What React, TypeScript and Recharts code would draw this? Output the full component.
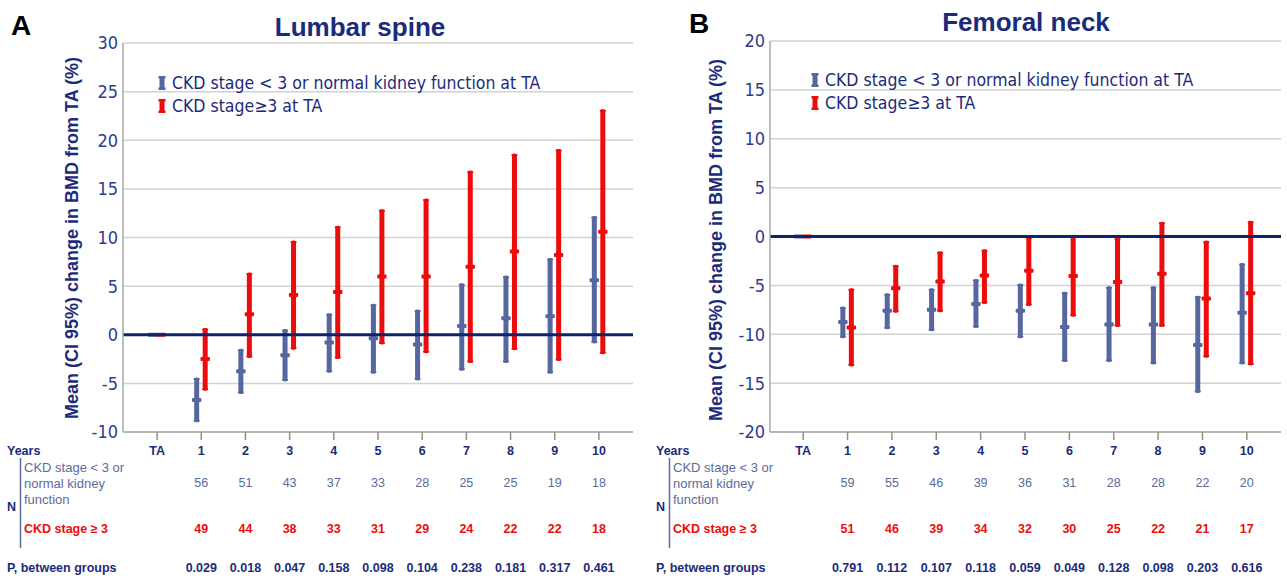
import { ComposedChart, Bar, XAxis, YAxis, CartesianGrid, ReferenceLine } from 'recharts';

const years = ['TA', '1', '2', '3', '4', '5', '6', '7', '8', '9', '10'];

// Lumbar spine
const lumbarBlueMean = [0, -6.7, -3.75, -2.1, -0.8, -0.35, -1.0, 0.9, 1.7, 1.9, 5.6];
const lumbarBlueLow = [0, -9.0, -6.1, -4.8, -3.9, -4.0, -4.7, -3.7, -2.9, -4.0, -0.9];
const lumbarBlueHigh = [0, -4.4, -1.45, 0.6, 2.2, 3.2, 2.6, 5.3, 6.1, 7.9, 12.2];
const lumbarRedMean = [0, -2.5, 2.1, 4.1, 4.4, 6.0, 6.0, 7.0, 8.55, 8.2, 10.6];
const lumbarRedLow = [0, -5.75, -2.4, -1.55, -2.5, -1.0, -1.9, -2.9, -1.6, -2.7, -2.0];
const lumbarRedHigh = [0, 0.7, 6.4, 9.7, 11.2, 12.9, 14.0, 16.9, 18.65, 19.1, 23.2];
const lumbarNBlue = ['56', '51', '43', '37', '33', '28', '25', '25', '19', '18'];
const lumbarNRed = ['49', '44', '38', '33', '31', '29', '24', '22', '22', '18'];
const lumbarP = ['0.029', '0.018', '0.047', '0.158', '0.098', '0.104', '0.238', '0.181', '0.317', '0.461'];
const lumbarTicks = [-10, -5, 0, 5, 10, 15, 20, 25, 30];

// Femoral neck
const femoralBlueMean = [0, -8.75, -7.6, -7.5, -6.9, -7.6, -9.25, -9.0, -9.0, -11.1, -7.8];
const femoralBlueLow = [0, -10.4, -9.5, -9.7, -9.35, -10.4, -12.85, -12.85, -13.1, -16.0, -13.1];
const femoralBlueHigh = [0, -7.15, -5.8, -5.3, -4.35, -4.8, -5.65, -5.1, -5.1, -6.05, -2.7];
const femoralRedMean = [0, -9.3, -5.3, -4.6, -4.0, -3.5, -4.05, -4.65, -3.8, -6.35, -5.8];
const femoralRedLow = [0, -13.3, -7.8, -7.75, -6.9, -7.1, -8.2, -9.25, -9.25, -12.4, -13.2];
const femoralRedHigh = [0, -5.3, -2.9, -1.5, -1.3, 0, 0.1, -0.1, 1.5, -0.4, 1.6];
const femoralNBlue = ['59', '55', '46', '39', '36', '31', '28', '28', '22', '20'];
const femoralNRed = ['51', '46', '39', '34', '32', '30', '25', '22', '21', '17'];
const femoralP = ['0.791', '0.112', '0.107', '0.118', '0.059', '0.049', '0.128', '0.098', '0.203', '0.616'];
const femoralTicks = [-20, -15, -10, -5, 0, 5, 10, 15, 20];

const BLUE = '#56679f';
const RED = '#ec0c0c';
const NAVY = '#1b2b7c';
const TICK_NAVY = '#2d3d8c';
const SLATE = '#5b6a9f';
const ARIAL = "'Liberation Sans', Arial, sans-serif";
const NARROW = "'Liberation Sans Narrow', 'Arial Narrow', 'DejaVu Sans Condensed', sans-serif";

// range bar with a mean marker
const makeShape = (rangeKey: string, meanKey: string, color: string) => (props: any) => {
  const { x, y, width, height, payload } = props;
  const [lo, hi] = payload[rangeKey];
  const mean = payload[meanKey];
  const meanY = hi === lo ? y : y + (height * (hi - mean)) / (hi - lo);
  return (
    <g>
      {height > 0 && (
        <>
          <rect x={x} y={y} width={width} height={height} rx={2} fill={color} />
          <rect x={x - 0.6} y={y + 0.5} width={width + 1.2} height={2} rx={1} fill={color} />
          <rect x={x - 0.6} y={y + height - 2.5} width={width + 1.2} height={2} rx={1} fill={color} />
        </>
      )}
      <rect x={x - 2.2} y={meanY - 2} width={width + 4.4} height={4} rx={1} fill={color} />
    </g>
  );
};

function TableTick({ x, y, payload, index, nBlue, nRed, pVals }: any) {
  const i = index;
  return (
    <g fontFamily={ARIAL} fontSize={12.5} textAnchor="middle">
      <text x={x} y={y + 9} dominantBaseline="central" fontWeight="bold" fill={NAVY}>
        {payload.value}
      </text>
      {i > 0 && (
        <text x={x} y={y + 41} dominantBaseline="central" fill={SLATE}>
          {nBlue[i - 1]}
        </text>
      )}
      {i > 0 && (
        <text x={x} y={y + 87} dominantBaseline="central" fontWeight="bold" fill={RED}>
          {nRed[i - 1]}
        </text>
      )}
      {i > 0 && (
        <text x={x} y={y + 126} dominantBaseline="central" fontWeight="bold" fill={NAVY}>
          {pVals[i - 1]}
        </text>
      )}
    </g>
  );
}

function LegendIcon({ x, y, color }: { x: number; y: number; color: string }) {
  return (
    <g fill={color}>
      <rect x={x - 2.5} y={y - 7} width={5} height={14} />
      <rect x={x - 3.5} y={y - 7} width={7} height={2.5} />
      <rect x={x - 3.5} y={y + 4.5} width={7} height={2.5} />
    </g>
  );
}

function Panel(props: any) {
  const {
    offset, width, letter, letterX, letterY, title, titleX, titleY, axisX, plotTop, marginRight,
    padL, padR, domain, ticks, blueMean, blueLow, blueHigh, redMean, redLow, redHigh,
    nBlue, nRed, pVals, labelX, labelY, legendX, legendY, tableX,
  } = props;

  const rows = years.map((year, i) => ({
    year,
    blue: [blueLow[i], blueHigh[i]],
    blueMean: blueMean[i],
    red: [redLow[i], redHigh[i]],
    redMean: redMean[i],
  }));

  return (
    <div style={{ position: 'absolute', left: offset, top: 0, width, height: 580 }}>
      <ComposedChart
        width={width}
        height={580}
        data={rows}
        margin={{ top: plotTop, right: marginRight, bottom: 8, left: 0 }}
        barSize={5}
        barGap={3.5}
      >
        <CartesianGrid vertical={false} stroke="#d2d2d2" strokeWidth={1.5} />
        <XAxis
          dataKey="year"
          height={140}
          interval={0}
          padding={{ left: padL, right: padR }}
          tickSize={8}
          tickMargin={2}
          tickLine={{ stroke: '#8f8f8f', strokeWidth: 1.5 }}
          axisLine={{ stroke: '#a8a8a8', strokeWidth: 1.5 }}
          tick={<TableTick nBlue={nBlue} nRed={nRed} pVals={pVals} />}
        />
        <YAxis
          type="number"
          domain={domain}
          ticks={ticks}
          width={axisX}
          tickLine={false}
          tickSize={0}
          tickMargin={5}
          axisLine={{ stroke: '#a8a8a8', strokeWidth: 1.5 }}
          tick={{ fill: TICK_NAVY, fontSize: 18, fontFamily: NARROW }}
        />
        <Bar dataKey="blue" fill={BLUE} shape={makeShape('blue', 'blueMean', BLUE)} isAnimationActive={false} />
        <Bar dataKey="red" fill={RED} shape={makeShape('red', 'redMean', RED)} isAnimationActive={false} />
        <ReferenceLine y={0} stroke="#0f236c" strokeWidth={3} />
      </ComposedChart>
      <svg
        width={width}
        height={580}
        style={{ position: 'absolute', left: 0, top: 0, pointerEvents: 'none' }}
      >
        <text x={letterX} y={letterY} dominantBaseline="central" fontFamily={ARIAL} fontWeight="bold" fontSize={28} fill="#000">
          {letter}
        </text>
        <text x={titleX} y={titleY} textAnchor="middle" dominantBaseline="central" fontFamily={ARIAL} fontWeight="bold" fontSize={26} fill={NAVY}>
          {title}
        </text>
        <text
          x={labelX}
          y={labelY}
          textAnchor="middle"
          dominantBaseline="central"
          transform={`rotate(-90 ${labelX} ${labelY})`}
          fontFamily={ARIAL}
          fontWeight="bold"
          fontSize={18}
          fill={NAVY}
        >
          Mean (CI 95%) change in BMD from TA (%)
        </text>

        <LegendIcon x={legendX} y={legendY} color={BLUE} />
        <LegendIcon x={legendX} y={legendY + 23} color={RED} />
        <g fontFamily={NARROW} fontSize={17.5} fill={NAVY} dominantBaseline="central">
          <text x={legendX + 10} y={legendY}>CKD stage &lt; 3 or normal kidney function at TA</text>
          <text x={legendX + 10} y={legendY + 23}>CKD stage≥3 at TA</text>
        </g>

        <g fontFamily={ARIAL} fontSize={12.5} dominantBaseline="central">
          <text x={tableX} y={451} fontWeight="bold" fill={NAVY}>Years</text>
          <text x={tableX + 17} y={467} fontSize={13} fill={SLATE}>CKD stage &lt; 3 or</text>
          <text x={tableX + 17} y={483} fontSize={13} fill={SLATE}>normal kidney</text>
          <text x={tableX + 17} y={499} fontSize={13} fill={SLATE}>function</text>
          <text x={tableX} y={507} fontWeight="bold" fill={NAVY}>N</text>
          <text x={tableX + 17} y={529} fontWeight="bold" fill={RED}>CKD stage ≥ 3</text>
          <text x={tableX} y={568} fontWeight="bold" fill={NAVY}>P, between groups</text>
        </g>
        <line x1={tableX + 13.5} y1={458} x2={tableX + 13.5} y2={548} stroke={SLATE} strokeWidth={1.5} />
      </svg>
    </div>
  );
}

export default function App() {
  return (
    <div style={{ position: 'absolute', left: 0, top: 0, width: 1287, height: 580, background: '#fff', overflow: 'hidden' }}>
      <Panel
        offset={0}
        width={643}
        letter="A"
        letterX={11}
        letterY={25}
        title="Lumbar spine"
        titleX={360}
        titleY={27}
        axisX={123}
        plotTop={43}
        marginRight={10}
        padL={12}
        padR={12}
        domain={[-10, 30]}
        ticks={lumbarTicks}
        blueMean={lumbarBlueMean}
        blueLow={lumbarBlueLow}
        blueHigh={lumbarBlueHigh}
        redMean={lumbarRedMean}
        redLow={lumbarRedLow}
        redHigh={lumbarRedHigh}
        nBlue={lumbarNBlue}
        nRed={lumbarNRed}
        pVals={lumbarP}
        labelX={72}
        labelY={238}
        legendX={162}
        legendY={83}
        tableX={7}
      />
      <Panel
        offset={643}
        width={644}
        letter="B"
        letterX={46}
        letterY={23}
        title="Femoral neck"
        titleX={383}
        titleY={22}
        axisX={127}
        plotTop={41}
        marginRight={6}
        padL={11}
        padR={12}
        domain={[-20, 20]}
        ticks={femoralTicks}
        blueMean={femoralBlueMean}
        blueLow={femoralBlueLow}
        blueHigh={femoralBlueHigh}
        redMean={femoralRedMean}
        redLow={femoralRedLow}
        redHigh={femoralRedHigh}
        nBlue={femoralNBlue}
        nRed={femoralNRed}
        pVals={femoralP}
        labelX={73}
        labelY={240}
        legendX={172}
        legendY={80}
        tableX={13}
      />
    </div>
  );
}
